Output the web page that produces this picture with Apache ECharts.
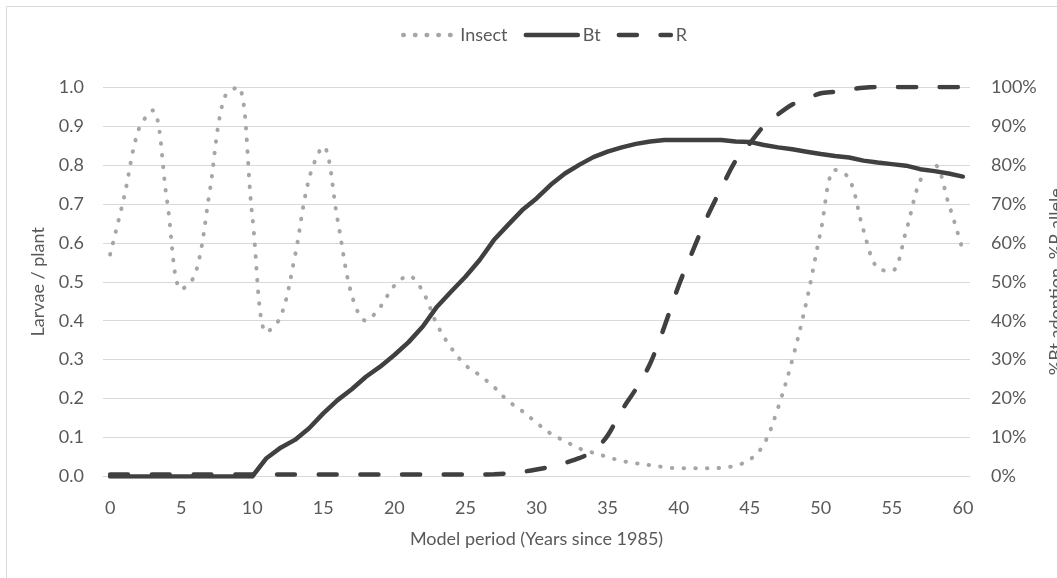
<!DOCTYPE html>
<html>
<head>
<meta charset="utf-8">
<script src="https://cdn.jsdelivr.net/npm/echarts@6/dist/echarts.min.js"></script>
<style>html,body{margin:0;padding:0;background:#fff;}#c{width:1057px;height:578px;}</style>
</head>
<body>
<div id="c"></div>
<script>
const years = Array.from({length: 61}, (_, i) => String(i));
const insect = [0.57,0.72,0.89,0.94,0.71,0.48,0.52,0.73,0.97,1.00,
  0.67,0.37,0.41,0.565,0.765,0.847,0.66,0.466,0.40,0.435,
  0.49,0.515,0.475,0.39,0.33,0.286,0.26,0.23,0.194,0.168,
  0.138,0.11,0.091,0.072,0.061,0.05,0.04,0.034,0.029,0.024,
  0.021,0.021,0.021,0.022,0.028,0.043,0.083,0.177,0.30,0.45,
  0.63,0.787,0.765,0.633,0.535,0.528,0.63,0.76,0.80,0.70,0.58];
const bt = [0,0,0,0,0,0,0,0,0,0,
  0,0.047,0.074,0.094,0.124,0.162,0.196,0.224,0.256,0.282,
  0.312,0.345,0.385,0.436,0.475,0.513,0.556,0.607,0.646,0.684,
  0.714,0.749,0.778,0.80,0.82,0.834,0.845,0.854,0.86,0.864,
  0.864,0.864,0.864,0.864,0.86,0.859,0.851,0.845,0.84,0.834,
  0.828,0.823,0.819,0.811,0.806,0.802,0.798,0.789,0.784,0.778,0.77];
const rAllele = [0.005,0.005,0.005,0.005,0.005,0.005,0.005,0.005,0.005,0.005,
  0.005,0.005,0.005,0.005,0.005,0.005,0.005,0.005,0.005,0.005,
  0.005,0.005,0.005,0.005,0.005,0.005,0.005,0.006,0.008,0.012,
  0.018,0.025,0.035,0.047,0.065,0.105,0.17,0.225,0.29,0.385,
  0.49,0.58,0.666,0.74,0.81,0.855,0.9,0.93,0.955,0.97,
  0.984,0.988,0.994,0.998,1.0,1.0,1.0,1.0,1.0,1.0,1.0];
const seriesNames = ['Insect', 'Bt', 'R'];
const leftTitle = 'Larvae / plant';
const rightTitle = '%Bt adoption, %R allele';
const xTitle = 'Model period (Years since 1985)';

const FONT = 'Lato';
const TXT = '#595959';
const chart = echarts.init(document.getElementById('c'), null, {renderer: 'canvas'});
chart.setOption({
  animation: false,
  backgroundColor: '#ffffff',
  textStyle: {fontFamily: FONT},
  graphic: [{
    type: 'rect', silent: true, z: -10,
    shape: {x: 6.5, y: 6.5, width: 1200, height: 1000},
    style: {fill: 'none', stroke: '#D9D9D9', lineWidth: 1}
  }],
  legend: {
    top: 21, left: 396,
    itemWidth: 52, itemHeight: 14, itemGap: 16,
    itemStyle: {opacity: 0},
    lineStyle: {width: 4.5, cap: 'round'},
    textStyle: {color: TXT, fontSize: 18, fontFamily: FONT},
    data: seriesNames
  },
  grid: {left: 103, right: 87, top: 87, bottom: 101.5, outerBoundsMode: 'none', containLabel: false},
  xAxis: {
    type: 'category', data: years, boundaryGap: true,
    name: xTitle, nameLocation: 'middle', nameGap: 54,
    nameTextStyle: {color: TXT, fontSize: 18, fontFamily: FONT},
    axisLine: {lineStyle: {color: '#D9D9D9', width: 1}},
    axisTick: {show: false},
    axisLabel: {interval: 4, color: TXT, fontSize: 18, margin: 23, fontFamily: FONT}
  },
  yAxis: [{
    type: 'value', min: 0, max: 1, interval: 0.1,
    name: leftTitle, nameLocation: 'middle', nameGap: 56,
    nameTextStyle: {color: TXT, fontSize: 18, fontFamily: FONT},
    axisLine: {show: false}, axisTick: {show: false},
    splitLine: {lineStyle: {color: '#D9D9D9', width: 1}},
    axisLabel: {color: TXT, fontSize: 18, margin: 19, fontFamily: FONT,
      formatter: v => v.toFixed(1)}
  }, {
    type: 'value', min: 0, max: 1, interval: 0.1, position: 'right',
    name: rightTitle, nameLocation: 'middle', nameGap: 76,
    nameTextStyle: {color: TXT, fontSize: 18, fontFamily: FONT},
    axisLine: {show: false}, axisTick: {show: false},
    splitLine: {show: false},
    axisLabel: {color: TXT, fontSize: 18, margin: 21, fontFamily: FONT,
      formatter: v => Math.round(v * 100) + '%'}
  }],
  series: [{
    name: seriesNames[0], type: 'line', yAxisIndex: 0, data: insect,
    smooth: 0.35, symbol: 'none',
    itemStyle: {color: '#A6A6A6'},
    lineStyle: {color: '#A6A6A6', width: 4, type: [0.5, 11.2], cap: 'round'}
  }, {
    name: seriesNames[1], type: 'line', yAxisIndex: 1, data: bt,
    smooth: false, symbol: 'none',
    itemStyle: {color: '#404040'},
    lineStyle: {color: '#404040', width: 4.5, cap: 'round', join: 'round'}
  }, {
    name: seriesNames[2], type: 'line', yAxisIndex: 1, data: rAllele,
    smooth: 0.3, symbol: 'none',
    itemStyle: {color: '#404040'},
    lineStyle: {color: '#404040', width: 4.5, type: [18, 23.7], cap: 'round'}
  }]
});
</script>
</body>
</html>
